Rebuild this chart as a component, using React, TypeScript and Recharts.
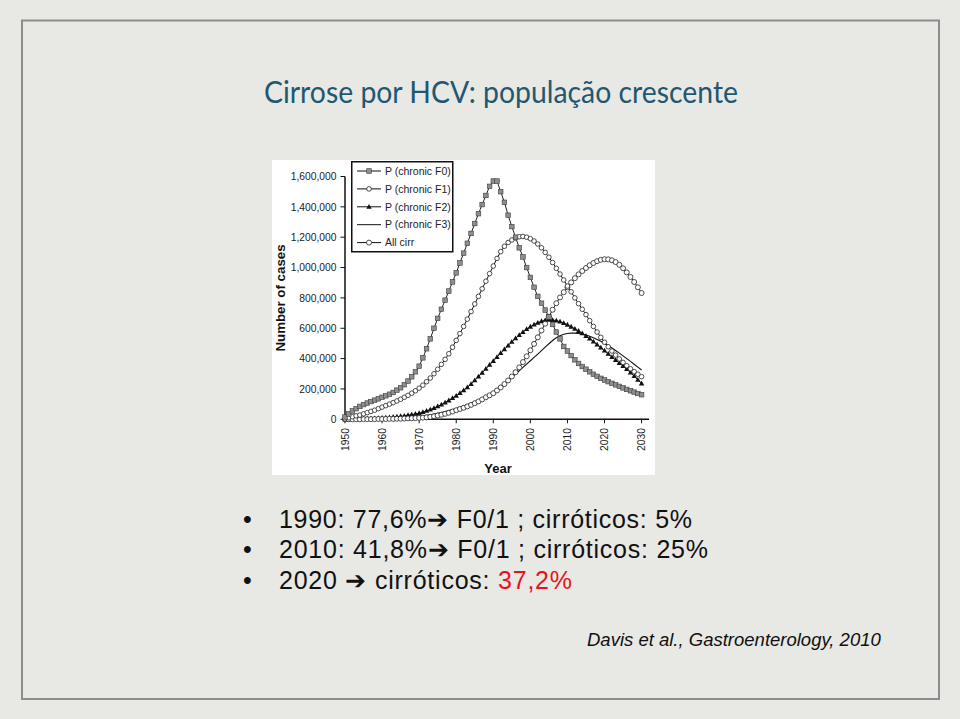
import React from 'react';
import { LineChart, Line, XAxis, YAxis, Legend, Label } from 'recharts';

const years = [
  1950, 1951, 1952, 1953, 1954, 1955, 1956, 1957, 1958, 1959,
  1960, 1961, 1962, 1963, 1964, 1965, 1966, 1967, 1968, 1969,
  1970, 1971, 1972, 1973, 1974, 1975, 1976, 1977, 1978, 1979,
  1980, 1981, 1982, 1983, 1984, 1985, 1986, 1987, 1988, 1989,
  1990, 1991, 1992, 1993, 1994, 1995, 1996, 1997, 1998, 1999,
  2000, 2001, 2002, 2003, 2004, 2005, 2006, 2007, 2008, 2009,
  2010, 2011, 2012, 2013, 2014, 2015, 2016, 2017, 2018, 2019,
  2020, 2021, 2022, 2023, 2024, 2025, 2026, 2027, 2028, 2029,
  2030,
];

// values in thousands of cases
const f0Thousands = [
  15, 35, 55, 70, 85, 97, 107, 117, 126, 135,
  145, 155, 165, 177, 192, 208, 228, 252, 280, 313,
  350, 405, 465, 530, 600, 665, 725, 785, 845, 905,
  965, 1030, 1095, 1160, 1225, 1290, 1355, 1415, 1475, 1535,
  1570, 1570, 1500, 1430, 1345, 1270, 1200, 1130, 1070, 1000,
  935, 870, 810, 765, 720, 675, 625, 575, 530, 480,
  450, 420, 392, 368, 348, 330, 313, 297, 283, 270,
  259, 248, 237, 227, 217, 207, 197, 188, 179, 170,
  162,
];
const f1Thousands = [
  3, 10, 17, 23, 28, 36, 44, 52, 60, 70,
  80, 90, 100, 110, 121, 132, 145, 158, 172, 188,
  205, 225, 248, 272, 300, 330, 362, 395, 432, 475,
  520, 565, 612, 660, 710, 760, 810, 860, 910, 960,
  1010, 1060, 1105, 1140, 1165, 1182, 1195, 1203, 1205, 1200,
  1190, 1175, 1155, 1130, 1100, 1068, 1033, 995, 957, 918,
  878, 840, 800, 762, 725, 690, 650, 612, 575, 540,
  508, 478, 450, 423, 398, 375, 353, 333, 314, 297,
  281,
];
const f2Thousands = [
  0, 0, 1, 1, 2, 3, 4, 5, 6, 8,
  10, 11, 13, 15, 17, 20, 23, 27, 31, 35,
  40, 47, 55, 64, 74, 85, 97, 110, 124, 139,
  155, 172, 190, 210, 232, 256, 281, 306, 332, 358,
  384, 410, 436, 461, 486, 510, 533, 555, 575, 594,
  610, 624, 636, 646, 652, 655, 654, 650, 643, 634,
  623, 610, 596, 582, 566, 549, 531, 512, 492, 472,
  452, 431, 410, 390, 370, 350, 330, 308, 284, 260,
  236,
];
const f3Thousands = [
  0, 0, 0, 1, 1, 1, 2, 2, 3, 4,
  5, 6, 7, 8, 10, 11, 12, 14, 15, 17,
  19, 22, 26, 30, 35, 40, 45, 51, 57, 64,
  71, 79, 87, 96, 105, 115, 126, 138, 151, 165,
  180, 198, 216, 236, 256, 277, 298, 320, 342, 364,
  386, 408, 430, 453, 476, 498, 519, 537, 550, 560,
  565, 568, 568, 566, 561, 555, 547, 537, 526, 514,
  500, 486, 470, 453, 436, 418, 400, 382, 363, 344,
  325,
];
const allCirrThousands = [
  0, 0, 0, 0, 0, 1, 1, 1, 1, 2,
  2, 2, 3, 3, 4, 4, 5, 6, 7, 8,
  9, 11, 13, 16, 20, 25, 30, 36, 43, 51,
  60, 68, 76, 85, 95, 106, 118, 131, 145, 158,
  172, 190, 210, 232, 256, 282, 310, 342, 377, 415,
  455, 497, 540, 585, 630, 676, 722, 765, 803, 838,
  870, 902, 930, 955, 977, 997, 1015, 1030, 1042, 1051,
  1055, 1054, 1048, 1036, 1018, 995, 968, 938, 905, 870,
  832,
];

const xTicks = [1950, 1960, 1970, 1980, 1990, 2000, 2010, 2020, 2030];
const yTicks = [0, 200000, 400000, 600000, 800000, 1000000, 1200000, 1400000, 1600000];
const seriesNames = ['P (chronic F0)', 'P (chronic F1)', 'P (chronic F2)', 'P (chronic F3)', 'All cirr'];

const titleText = 'Cirrose por HCV: população crescente';
const citation = 'Davis et al., Gastroenterology, 2010';

const data = years.map((year, i) => ({
  year,
  f0: f0Thousands[i] * 1000,
  f1: f1Thousands[i] * 1000,
  f2: f2Thousands[i] * 1000,
  f3: f3Thousands[i] * 1000,
  cirr: allCirrThousands[i] * 1000,
}));

const AXIS_FONT = '"Liberation Sans", Arial, Helvetica, sans-serif';

const drawSquare = (cx: number, cy: number, k?: any) => (
  <rect key={k} x={cx - 2.3} y={cy - 2.3} width={4.6} height={4.6} fill="#8e8e8e" stroke="#3c3c3c" strokeWidth={0.6} />
);
const drawCircle = (cx: number, cy: number, r: number, k?: any) => (
  <circle key={k} cx={cx} cy={cy} r={r} fill="#ffffff" stroke="#222" strokeWidth={0.8} />
);
const drawTri = (cx: number, cy: number, k?: any) => (
  <path key={k} d={`M${cx},${cy - 2.9}L${cx + 2.7},${cy + 1.9}L${cx - 2.7},${cy + 1.9}Z`} fill="#111" />
);

const SquareDot = (p: any) => (p.cx == null || p.cy == null ? <g key={p.key} /> : drawSquare(p.cx, p.cy, p.key));
const SmallCircleDot = (p: any) => (p.cx == null || p.cy == null ? <g key={p.key} /> : drawCircle(p.cx, p.cy, 2.3, p.key));
const CircleDot = (p: any) => (p.cx == null || p.cy == null ? <g key={p.key} /> : drawCircle(p.cx, p.cy, 2.5, p.key));
const TriDot = (p: any) => (p.cx == null || p.cy == null ? <g key={p.key} /> : drawTri(p.cx, p.cy, p.key));

const legendMarker = (i: number, x: number, y: number) => {
  if (i === 0) return drawSquare(x, y);
  if (i === 1) return drawCircle(x, y, 2.3);
  if (i === 2) return drawTri(x, y);
  if (i === 4) return drawCircle(x, y, 2.5);
  return null;
};

const LegendBox = () => (
  <svg width={103} height={92} style={{ display: 'block' }}>
    <rect x={0.75} y={0.75} width={101} height={90} fill="#fff" stroke="#111" strokeWidth={1.5} />
    {seriesNames.map((name, i) => {
      const y = 10 + i * 17.9;
      return (
        <g key={name}>
          <line x1={6} x2={30} y1={y} y2={y} stroke="#111" strokeWidth={1} />
          {legendMarker(i, 18, y)}
          <text x={34} y={y + 3.7} fontSize={10.5} fill="#222" fontFamily={AXIS_FONT}>
            {name}
          </text>
        </g>
      );
    })}
  </svg>
);

const XTick = (props: any) => {
  const { x, y, payload } = props;
  const tx = x + 3.7;
  const ty = y + 2.7;
  return (
    <text x={tx} y={ty} transform={`rotate(-90, ${tx}, ${ty})`} textAnchor="end" fontSize={10.3} fill="#222" fontFamily={AXIS_FONT}>
      {payload.value}
    </text>
  );
};

const fmt = (v: number) => v.toLocaleString('en-US');

export default function App() {
  return (
    <div style={{ position: 'fixed', left: 0, top: 0, width: 960, height: 719, background: '#e8e8e5', overflow: 'hidden' }}>
      <svg width={960} height={719} style={{ position: 'absolute', left: 0, top: 0 }}>
        <rect x={22} y={20.5} width={917} height={678.5} fill="none" stroke="#8c8c8c" strokeWidth={2} />
        <text x={264} y={103} fontFamily="Lato, 'Open Sans', sans-serif" fontSize={30} fill="#1f5870" textLength={474} lengthAdjust="spacingAndGlyphs">
          {titleText}
        </text>
        <g fontFamily={AXIS_FONT} fontSize={25} fill="#111">
          <text x={243} y={527.5}>•</text>
          <text x={279} y={527.5} textLength={413}>1990: 77,6%➔ F0/1 ; cirróticos: 5%</text>
          <text x={243} y={558}>•</text>
          <text x={279} y={558} textLength={429}>2010: 41,8%➔ F0/1 ; cirróticos: 25%</text>
          <text x={243} y={588.5}>•</text>
          <text x={279} y={588.5} textLength={293}>
            2020 ➔ cirróticos: <tspan fill="#e3161c">37,2%</tspan>
          </text>
        </g>
        <text x={587} y={646} fontFamily={AXIS_FONT} fontStyle="italic" fontSize={18.5} fill="#111">
          {citation}
        </text>
      </svg>
      <div style={{ position: 'absolute', left: 272, top: 160, width: 383, height: 315, background: '#ffffff' }}>
        <LineChart width={383} height={315} data={data} margin={{ top: 16.5, right: 6, left: 0, bottom: 0 }}>
          <XAxis
            dataKey="year"
            type="number"
            domain={[1950, 2032]}
            ticks={xTicks}
            interval={0}
            tick={<XTick />}
            tickSize={4}
            axisLine={{ stroke: '#111', strokeWidth: 1.5 }}
            tickLine={{ stroke: '#111', strokeWidth: 1 }}
            height={55.7}
          >
            <Label
              content={() => (
                <text x={226} y={313} textAnchor="middle" fontWeight="bold" fontSize={13} fill="#111" fontFamily={AXIS_FONT}>
                  Year
                </text>
              )}
            />
          </XAxis>
          <YAxis
            type="number"
            domain={[0, 1600000]}
            ticks={yTicks}
            interval={0}
            tickFormatter={fmt}
            width={73}
            tickSize={4.5}
            tickMargin={4}
            tick={{ fontSize: 10.3, fill: '#222', fontFamily: AXIS_FONT }}
            axisLine={{ stroke: '#111', strokeWidth: 1.5 }}
            tickLine={{ stroke: '#111', strokeWidth: 1 }}
          >
            <Label
              content={() => (
                <text x={13} y={138} transform="rotate(-90, 13, 138)" textAnchor="middle" fontWeight="bold" fontSize={13.3} fill="#111" fontFamily={AXIS_FONT}>
                  Number of cases
                </text>
              )}
            />
          </YAxis>
          <Legend layout="vertical" align="center" verticalAlign="middle" content={<LegendBox />} wrapperStyle={{ position: 'absolute', top: 1, left: 79, width: 103, height: 92 }} />
          <Line dataKey="f3" name={seriesNames[3]} type="linear" stroke="#111" strokeWidth={1.1} dot={false} isAnimationActive={false} />
          <Line dataKey="f2" name={seriesNames[2]} type="linear" stroke="#111" strokeWidth={1} dot={TriDot} isAnimationActive={false} />
          <Line dataKey="cirr" name={seriesNames[4]} type="linear" stroke="#111" strokeWidth={1} dot={CircleDot} isAnimationActive={false} />
          <Line dataKey="f1" name={seriesNames[1]} type="linear" stroke="#111" strokeWidth={1} dot={SmallCircleDot} isAnimationActive={false} />
          <Line dataKey="f0" name={seriesNames[0]} type="linear" stroke="#222" strokeWidth={1} dot={SquareDot} isAnimationActive={false} />
        </LineChart>
      </div>
    </div>
  );
}
